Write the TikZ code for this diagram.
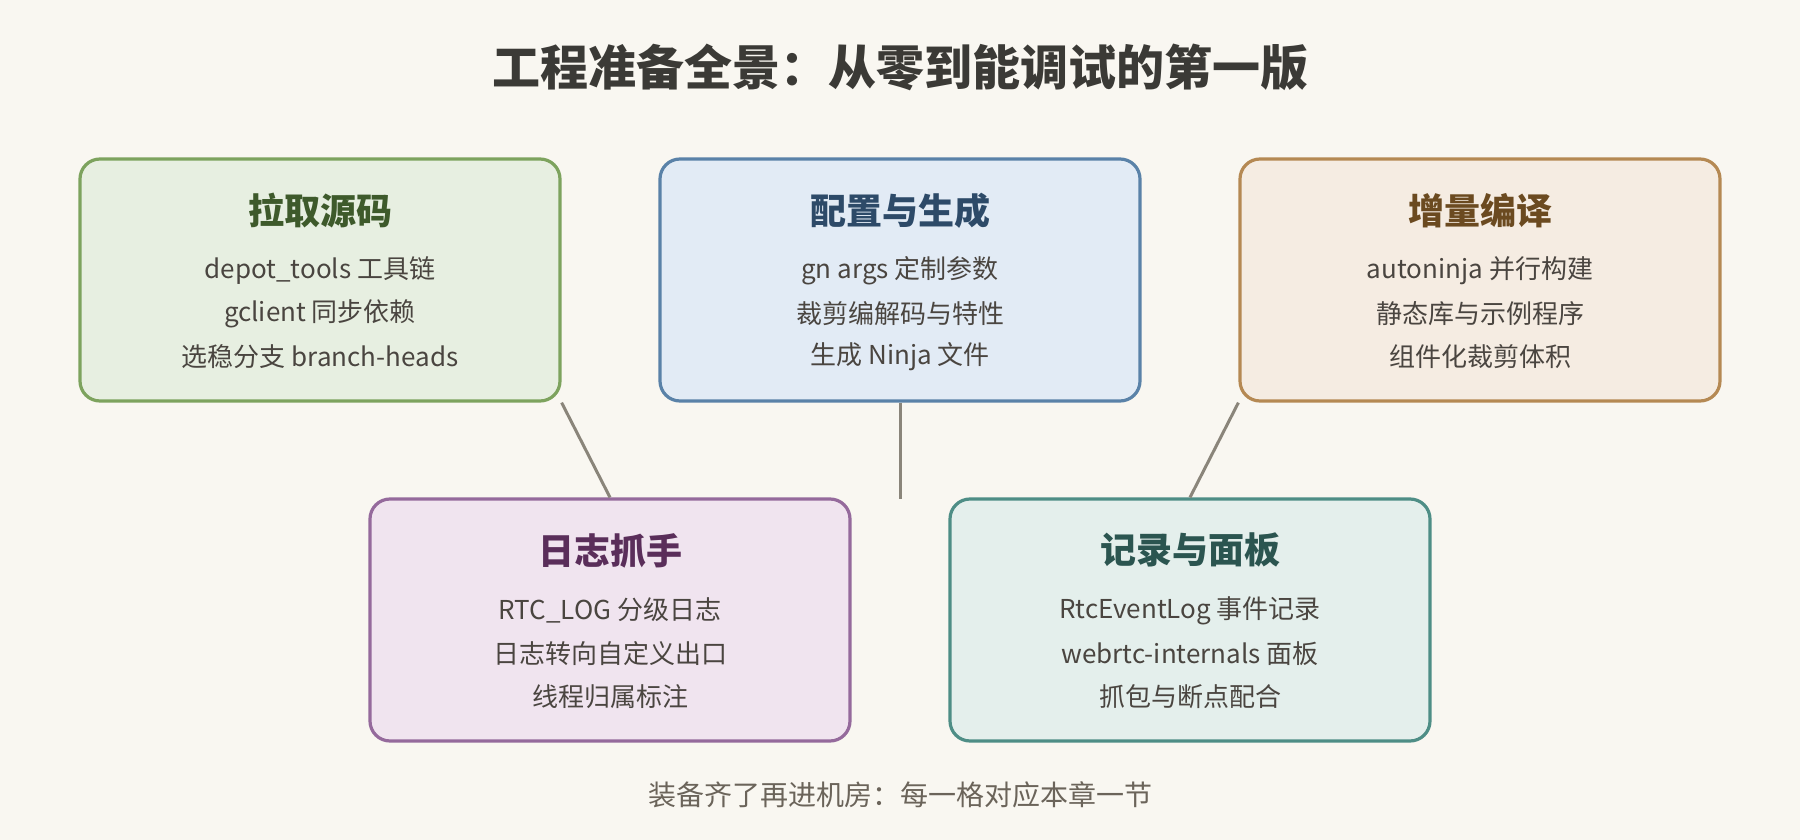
\documentclass[tikz,border=0pt]{standalone}
\usepackage{fontspec}
\setmainfont{Noto Sans CJK SC}
\definecolor{bgc}{HTML}{F9F7F1}
\definecolor{titlec}{HTML}{3B3A36}
\definecolor{bodyc}{HTML}{4A4540}
\definecolor{footc}{HTML}{6B645A}
\definecolor{linkc}{HTML}{8A857A}
\definecolor{gF}{HTML}{E7EFE1}\definecolor{gB}{HTML}{7DA35E}\definecolor{gH}{HTML}{3E5A2B}
\definecolor{bF}{HTML}{E2EBF5}\definecolor{bB}{HTML}{5A82A8}\definecolor{bH}{HTML}{2D4A68}
\definecolor{oF}{HTML}{F5ECE2}\definecolor{oB}{HTML}{B58953}\definecolor{oH}{HTML}{6B4A20}
\definecolor{pF}{HTML}{F0E4EF}\definecolor{pB}{HTML}{956A9C}\definecolor{pH}{HTML}{5A2E5A}
\definecolor{tF}{HTML}{E4EFEC}\definecolor{tB}{HTML}{4E8E86}\definecolor{tH}{HTML}{2B5550}
\tikzset{
  card/.style={draw, line width=3.2pt, rounded corners=20pt, minimum width=480pt, minimum height=242pt, inner sep=0pt},
  head/.style={font=\fontsize{36}{42}\selectfont\bfseries, inner sep=0pt},
  body/.style={font=\fontsize{26}{30}\selectfont, text=bodyc, inner sep=0pt},
  link/.style={draw=linkc, line width=3pt},
  titlestyle/.style={font=\fontsize{48}{56}\selectfont\bfseries, text=titlec},
  footstyle/.style={font=\fontsize{28}{32}\selectfont, text=footc}
}
\begin{document}
\begin{tikzpicture}[x=1pt,y=-1pt]
\fill[bgc] (0,0) rectangle (1800,840);
\useasboundingbox (0,0) rectangle (1800,840);

\node[titlestyle] (title) at (900,67) {工程准备全景：从零到能调试的第一版};

% top row
\node[card, draw=gB, fill=gF] (src) at (320,280) {};
\node[card, draw=bB, fill=bF] (cfg) at (900,280) {};
\node[card, draw=oB, fill=oF] (bld) at (1480,280) {};
% bottom row
\node[card, draw=pB, fill=pF] (log) at (610,620) {};
\node[card, draw=tB, fill=tF] (rec) at (1190,620) {};

\coordinate (mid) at (900,499);

\draw[link] (src.south east) -- (log.north);
\draw[link] (cfg.south) -- (mid);
\draw[link] (bld.south west) -- (rec.north);

% texts
\node[head, text=gH] (srcH) at ([yshift=-53pt]src.north) {拉取源码};
\node[body] (src1) at ([yshift=-113pt]src.north) {depot\_tools 工具链};
\node[body] (src2) at ([yshift=-156pt]src.north) {gclient 同步依赖};
\node[body] (src3) at ([yshift=-199pt]src.north) {选稳分支 branch-heads};

\node[head, text=bH] (cfgH) at ([yshift=-53pt]cfg.north) {配置与生成};
\node[body] (cfg1) at ([yshift=-113pt]cfg.north) {gn args 定制参数};
\node[body] (cfg2) at ([yshift=-156pt]cfg.north) {裁剪编解码与特性};
\node[body] (cfg3) at ([yshift=-199pt]cfg.north) {生成 Ninja 文件};

\node[head, text=oH] (bldH) at ([yshift=-53pt]bld.north) {增量编译};
\node[body] (bld1) at ([yshift=-113pt]bld.north) {autoninja 并行构建};
\node[body] (bld2) at ([yshift=-156pt]bld.north) {静态库与示例程序};
\node[body] (bld3) at ([yshift=-199pt]bld.north) {组件化裁剪体积};

\node[head, text=pH] (logH) at ([yshift=-53pt]log.north) {日志抓手};
\node[body] (log1) at ([yshift=-113pt]log.north) {RTC\_LOG 分级日志};
\node[body] (log2) at ([yshift=-156pt]log.north) {日志转向自定义出口};
\node[body] (log3) at ([yshift=-199pt]log.north) {线程归属标注};

\node[head, text=tH] (recH) at ([yshift=-53pt]rec.north) {记录与面板};
\node[body] (rec1) at ([yshift=-113pt]rec.north) {RtcEventLog 事件记录};
\node[body] (rec2) at ([yshift=-156pt]rec.north) {webrtc-internals 面板};
\node[body] (rec3) at ([yshift=-199pt]rec.north) {抓包与断点配合};

\node[footstyle] (foot) at (900,795) {装备齐了再进机房：每一格对应本章一节};
\end{tikzpicture}
\end{document}
